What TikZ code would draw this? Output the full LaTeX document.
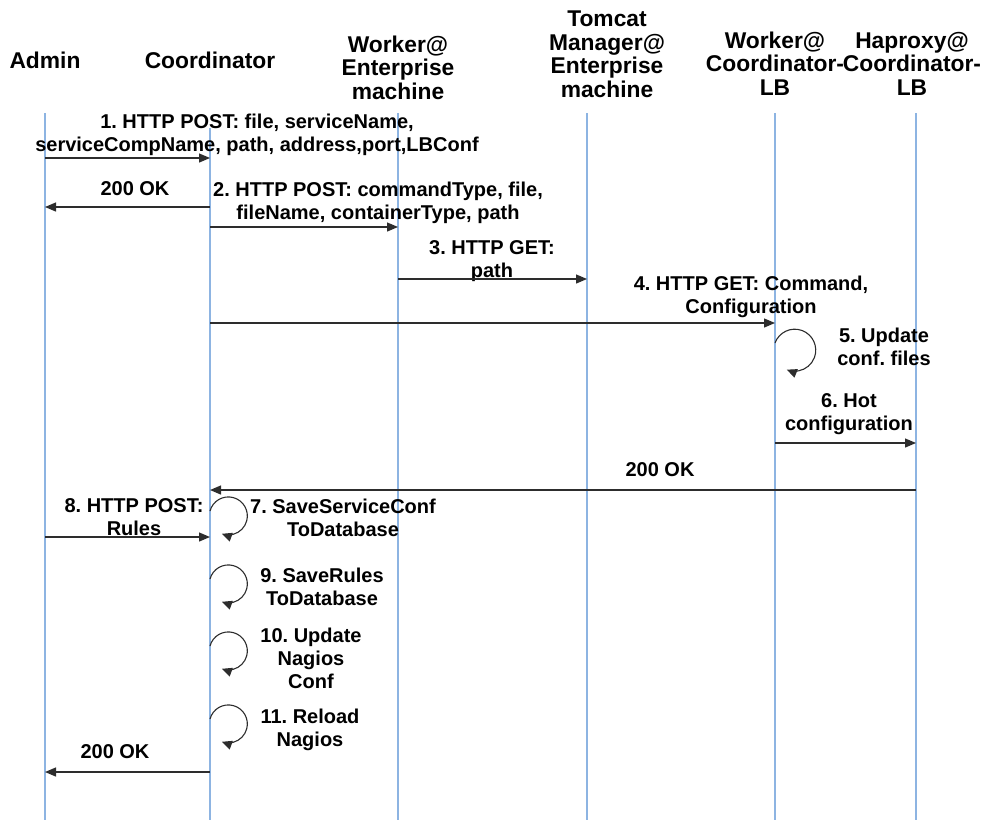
\documentclass[tikz,border=0pt]{standalone}
\usepackage{fontspec}
\setmainfont{Liberation Sans}
\usetikzlibrary{arrows.meta}
\frenchspacing
\definecolor{lifeblue}{RGB}{141,180,226}
\definecolor{msggray}{RGB}{45,45,45}
\tikzset{
  actor/.style={font=\fontsize{22.8}{23.5}\selectfont\bfseries,align=center,anchor=base,inner sep=0pt},
  lbl/.style={font=\fontsize{20}{23}\selectfont\bfseries,align=center,anchor=base,inner sep=0pt},
  life/.style={lifeblue,line width=1.5pt},
  msg/.style={msggray,line width=1.3pt,-{Triangle[length=11pt,width=9pt]}},
  selfloop/.style={msggray,line width=1.1pt,-{Triangle[length=10pt,width=9pt]}},
}
\begin{document}
\begin{tikzpicture}[x=1pt,y=-1pt]
	\useasboundingbox (0,0) rectangle (990,820);
	% actors (base = baseline of last line)
	\node[actor] (admin) at (45,68) {Admin};
	\node[actor] (coord) at (210,68) {Coordinator};
	\node[actor] (wkent) at (398,99) {Worker@\\Enterprise\\machine};
	\node[actor] (tomcat) at (607,97) {Tomcat\\Manager@\\Enterprise\\machine};
	\node[actor] (wklb) at (775,95) {Worker@\\Coordinator-\\LB};
	\node[actor] (hapx) at (912,95) {Haproxy@\\Coordinator-\\LB};
	% lifelines
	\coordinate (adm) at (45,113);
	\coordinate (coo) at (210,128);
	\coordinate (wke) at (398,113);
	\coordinate (tom) at (587,113);
	\coordinate (wlb) at (775,113);
	\coordinate (hap) at (916,113);
	\foreach \c in {adm,coo,wke,tom,wlb,hap}
		\draw[life] (\c) -- (\c |- 0,820);
	% labels
	\node[lbl] (t1) at (257,151) {1. HTTP POST: file, serviceName,\\serviceCompName, path, address,port,LBConf};
	\node[lbl] (ok1) at (135,195) {200 OK};
	\node[lbl] (t2) at (378,219) {2. HTTP POST: commandType, file,\\fileName, containerType, path};
	\node[lbl] (t3) at (492,277) {3. HTTP GET:\\path};
	\node[lbl] (t4) at (751,313) {4. HTTP GET: Command,\\Configuration};
	\node[lbl] (t5) at (884,365) {5. Update\\conf. files};
	\node[lbl] (t6) at (849,430) {6. Hot\\configuration};
	\node[lbl] (ok2) at (660,476) {200 OK};
	\node[lbl] (t7) at (343,536) {7. SaveServiceConf\\ToDatabase};
	\node[lbl] (t8) at (134,535) {8. HTTP POST:\\Rules};
	\node[lbl] (t9) at (322,605) {9. SaveRules\\ToDatabase};
	\node[lbl] (t10) at (311,688) {10. Update\\Nagios\\Conf};
	\node[lbl] (t11) at (310,746) {11. Reload\\Nagios};
	\node[lbl] (ok3) at (115,758) {200 OK};
	% messages
	\draw[msg] (adm |- 0,158) -- (coo |- 0,158);
	\draw[msg] (coo |- 0,207) -- (adm |- 0,207);
	\draw[msg] (coo |- 0,227) -- (wke |- 0,227);
	\draw[msg] (wke |- 0,279) -- (tom |- 0,279);
	\draw[msg] (coo |- 0,323) -- (wlb |- 0,323);
	\draw[selfloop] (wlb |- 0,343) arc[start angle=200,end angle=472,radius=21];
	\draw[msg] (wlb |- 0,443) -- (hap |- 0,443);
	\draw[msg] (hap |- 0,490) -- (coo |- 0,490);
	\draw[selfloop] (coo |- 0,511) arc[start angle=195,end angle=470,radius=19];
	\draw[msg] (adm |- 0,537) -- (coo |- 0,537);
	\draw[selfloop] (coo |- 0,579) arc[start angle=195,end angle=470,radius=19];
	\draw[selfloop] (coo |- 0,646) arc[start angle=195,end angle=470,radius=19];
	\draw[selfloop] (coo |- 0,719) arc[start angle=195,end angle=470,radius=19];
	\draw[msg] (coo |- 0,772) -- (adm |- 0,772);
\end{tikzpicture}
\end{document}
